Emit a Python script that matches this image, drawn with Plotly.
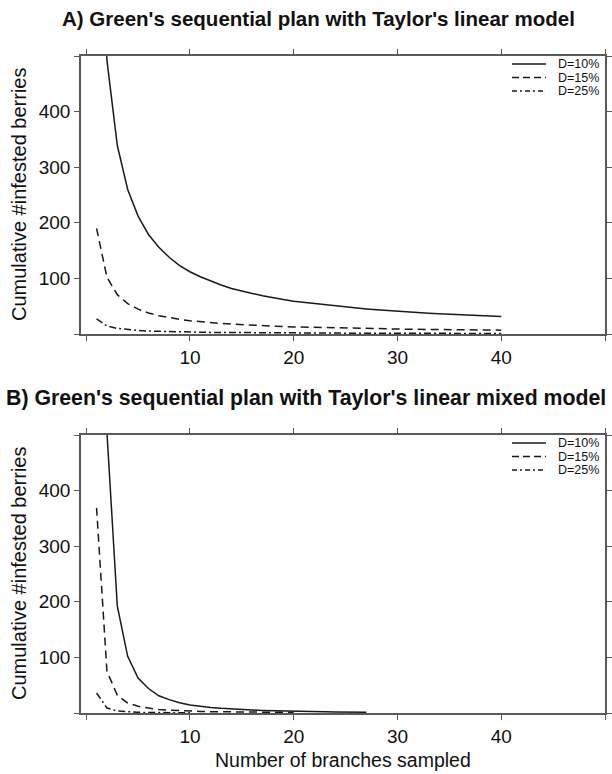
import plotly.graph_objects as go

# ---------------- data ----------------
series_names = ["D=10%", "D=15%", "D=25%"]
x_tick_vals = [0, 10, 20, 30, 40, 50]
x_tick_text = ["", "10", "20", "30", "40", ""]
y_tick_vals = [0, 100, 200, 300, 400, 500]
y_tick_text = ["", "100", "200", "300", "400", ""]

# Panel A: Taylor's linear model
a_n = list(range(1, 41))
a_d10 = [932, 492, 339, 260, 212, 179, 156, 138, 123, 112, 103, 95, 88, 82, 77, 73,
         69, 65, 62, 59, 57, 54, 52, 50, 48, 46.5, 45, 43.4, 42, 40.8, 39.6, 38.4,
         37.3, 36.4, 35.4, 34.5, 33.6, 32.8, 32.0, 31.3]
a_d15 = [190, 102, 70.7, 54.6, 44.7, 37.9, 33, 29.3, 26.3, 23.9, 22, 20.3, 18.9, 17.7,
         16.6, 15.7, 14.8, 14.1, 13.4, 12.8, 12.3, 11.8, 11.3, 10.9, 10.5, 10.1, 9.8,
         9.5, 9.2, 8.9, 8.6, 8.4, 8.2, 7.9, 7.7, 7.5, 7.4, 7.2, 7.0, 6.9]
a_d25 = [27, 14.5, 10.0, 7.75, 6.35, 5.37, 4.69, 4.16, 3.74, 3.40, 3.12, 2.89, 2.69,
         2.51, 2.36, 2.23, 2.11, 2.0, 1.91, 1.82, 1.74, 1.67, 1.61, 1.55, 1.49, 1.44,
         1.39, 1.34, 1.30, 1.26, 1.23, 1.19, 1.16, 1.13, 1.10, 1.07, 1.05, 1.02, 1.0, 0.97]

# Panel B: Taylor's linear mixed model
b_n10 = list(range(2, 28))
b_d10 = [505, 192, 102, 63, 44, 31, 24, 18.5, 14.5, 12, 10, 8.5, 7.2, 6.2, 5.4, 4.7,
         4.1, 3.6, 3.2, 2.8, 2.5, 2.2, 2.0, 1.8, 1.6, 1.4]
b_n15 = list(range(1, 21))
b_d15 = [369, 75, 32, 18, 12, 8.5, 6.3, 5, 4, 3.3, 2.8, 2.4, 2.1, 1.8, 1.6, 1.4, 1.3,
         1.2, 1.1, 1.0]
b_n25 = list(range(1, 11))
b_d25 = [36, 9, 3.5, 2, 1.3, 0.9, 0.7, 0.5, 0.4, 0.35]

title_a = "A) Green's sequential plan with Taylor's linear model"
title_b = "B) Green's sequential plan with Taylor's linear mixed model"
y_title = "Cumulative #infested berries"
x_title = "Number of branches sampled"

# ---------------- style ----------------
W, H = 612, 774
FONT = "Liberation Sans, Arial, Helvetica, sans-serif"
LINE_COL = "#1a1a1a"
AX_COL = "#5a5a5a"
dashes = ["solid", "8px,5px", "7px,3px,2px,3px"]
legend_dashes = ["solid", "7px,4px", "5px,3px,2px,3px"]

def px_x(p):
    return p / W

def px_y(p):
    return 1 - p / H

fig = go.Figure()

panel_a = [(a_n, a_d10), (a_n, a_d15), (a_n, a_d25)]
panel_b = [(b_n10, b_d10), (b_n15, b_d15), (b_n25, b_d25)]

for i, (xs, ys) in enumerate(panel_a):
    fig.add_trace(go.Scatter(x=xs, y=ys, mode="lines", name=series_names[i],
                             line=dict(color=LINE_COL, width=1.5, dash=dashes[i]),
                             xaxis="x", yaxis="y", showlegend=False))
for i, (xs, ys) in enumerate(panel_b):
    fig.add_trace(go.Scatter(x=xs, y=ys, mode="lines", name=series_names[i],
                             line=dict(color=LINE_COL, width=1.5, dash=dashes[i]),
                             xaxis="x2", yaxis="y2", showlegend=False))

axis_common = dict(showline=True, linecolor=AX_COL, linewidth=1.5, mirror="ticks",
                   ticks="outside", ticklen=5, tickwidth=1.2, tickcolor=AX_COL,
                   showgrid=False, zeroline=False,
                   tickfont=dict(family=FONT, size=19, color="#111"))

xdom = [px_x(81), px_x(605)]
fig.update_layout(
    width=W, height=H,
    margin=dict(l=0, r=0, t=0, b=0),
    paper_bgcolor="white", plot_bgcolor="white",
    font=dict(family=FONT, color="#111"),
    showlegend=False,
    xaxis=dict(domain=xdom, range=[-0.5, 50], tickvals=x_tick_vals, ticktext=x_tick_text,
               anchor="y", **axis_common),
    yaxis=dict(domain=[px_y(334), px_y(56)], range=[0, 500], tickvals=y_tick_vals,
               ticktext=y_tick_text, anchor="x", **axis_common),
    xaxis2=dict(domain=xdom, range=[-0.5, 50], tickvals=x_tick_vals, ticktext=x_tick_text,
                anchor="y2", **axis_common),
    yaxis2=dict(domain=[px_y(713), px_y(435)], range=[0, 500], tickvals=y_tick_vals,
                ticktext=y_tick_text, anchor="x2", **axis_common),
)

annotations = [
    dict(text=f"<b>{title_a}</b>", x=px_x(318), y=px_y(18), xref="paper", yref="paper",
         xanchor="center", yanchor="middle", showarrow=False,
         font=dict(family=FONT, size=20.5, color="#111")),
    dict(text=f"<b>{title_b}</b>", x=px_x(306), y=px_y(398), xref="paper", yref="paper",
         xanchor="center", yanchor="middle", showarrow=False,
         font=dict(family=FONT, size=21.3, color="#111")),
    dict(text=y_title, x=px_x(19), y=px_y(195), xref="paper", yref="paper",
         xanchor="center", yanchor="middle", textangle=-90, showarrow=False,
         font=dict(family=FONT, size=20, color="#111")),
    dict(text=y_title, x=px_x(19), y=px_y(574), xref="paper", yref="paper",
         xanchor="center", yanchor="middle", textangle=-90, showarrow=False,
         font=dict(family=FONT, size=20, color="#111")),
    dict(text=x_title, x=px_x(343), y=px_y(760), xref="paper", yref="paper",
         xanchor="center", yanchor="middle", showarrow=False,
         font=dict(family=FONT, size=19.5, color="#111")),
]

# hand-placed legends (compact rows as in the reference)
shapes = []
for top in (64, 443):
    for i, name in enumerate(series_names):
        yy = px_y(top + 13.5 * i)
        shapes.append(dict(type="line", xref="paper", yref="paper",
                           x0=px_x(512), x1=px_x(546), y0=yy, y1=yy,
                           line=dict(color=LINE_COL, width=1.5, dash=legend_dashes[i])))
        annotations.append(dict(text=name, x=px_x(556), y=yy, xref="paper", yref="paper",
                                xanchor="left", yanchor="middle", showarrow=False,
                                font=dict(family=FONT, size=12.5, color="#111")))

fig.update_layout(annotations=annotations, shapes=shapes)

fig.write_html(
    "out.html",
    config={"displayModeBar": False},
    post_script="document.body.style.margin='0';document.body.style.overflow='hidden';",
)
